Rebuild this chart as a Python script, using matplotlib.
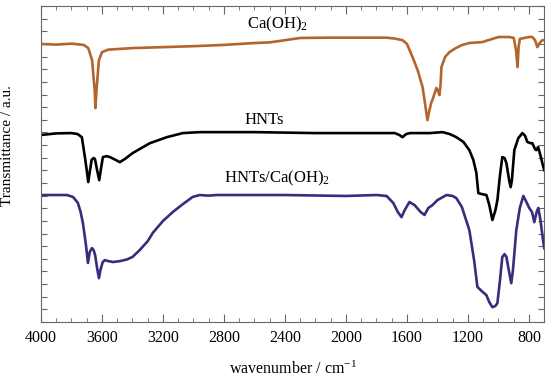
import numpy as np
import matplotlib
matplotlib.use('Agg')
import matplotlib.pyplot as plt
from matplotlib.ticker import MultipleLocator

plt.rcParams['font.family'] = ['Liberation Serif', 'DejaVu Serif']
plt.rcParams['mathtext.fontset'] = 'custom'
plt.rcParams['mathtext.rm'] = 'Liberation Serif'
plt.rcParams['mathtext.it'] = 'Liberation Serif:italic'

# Ca(OH)2 spectrum (wavenumber, transmittance a.u.)
wn_ca = [4000, 3900, 3800, 3720, 3690, 3665, 3648, 3643, 3636, 3620, 3600, 3560,
         3400, 3200, 3000, 2800, 2600, 2500, 2300, 2100, 1960, 1800, 1734, 1680,
         1629, 1600, 1564, 1530, 1498, 1480, 1466, 1455, 1440, 1433, 1407, 1395,
         1387, 1380, 1374, 1350, 1322, 1280, 1237, 1191, 1106, 1000, 975, 929,
         900, 885, 875, 868, 860, 800, 778, 760, 745, 730, 713, 700]
t_ca = [88.0, 87.8, 88.1, 87.7, 86.7, 82.9, 73.4, 67.7, 73.4, 82.9, 85.4, 86.2,
        86.7, 87.0, 87.3, 87.7, 88.3, 88.5, 89.9, 90.0, 90.0, 90.0, 90.0, 89.7,
        89.2, 88.0, 83.9, 79.7, 74.4, 68.7, 63.9, 66.5, 69.6, 70.3, 74.1, 73.0,
        71.8, 75.0, 80.7, 83.9, 85.4, 86.7, 87.7, 88.3, 88.6, 90.2, 90.2, 90.2,
        89.9, 86.1, 80.7, 87.0, 89.6, 90.2, 90.2, 89.2, 87.0, 88.3, 89.2, 89.2]

# HNTs spectrum
wn_hnt = [4000, 3900, 3800, 3760, 3732, 3712, 3700, 3690, 3680, 3668, 3655, 3646,
          3632, 3618, 3606, 3594, 3570, 3548, 3510, 3483, 3450, 3398, 3286, 3175,
          3070, 2959, 2600, 2200, 1800, 1680, 1650, 1629, 1605, 1580, 1450, 1367,
          1320, 1276, 1230, 1191, 1165, 1145, 1132, 1110, 1079, 1060, 1040, 1020,
          1007, 990, 975, 960, 948, 930, 920, 912, 896, 870, 843, 825, 811, 790,
          778, 760, 752, 740, 725, 706, 700]
t_hnt = [59.2, 59.7, 59.8, 59.5, 58.5, 52.2, 48.1, 44.3, 47.5, 51.3, 51.9, 51.6,
         48.1, 44.9, 48.7, 52.2, 52.5, 52.2, 51.3, 50.6, 51.6, 53.5, 56.6, 58.5,
         59.8, 60.1, 60.1, 59.8, 59.8, 59.8, 59.2, 58.5, 59.5, 59.8, 59.8, 60.1,
         59.5, 58.5, 57.0, 54.4, 51.3, 47.2, 40.8, 40.5, 40.2, 37.0, 32.3, 35.4,
         38.6, 46.5, 52.2, 51.9, 50.3, 44.9, 42.7, 44.9, 54.4, 58.2, 59.8, 58.9,
         57.0, 56.6, 56.6, 54.7, 54.4, 55.4, 52.8, 49.1, 48.1]

# HNTs/Ca(OH)2 spectrum
wn_mix = [4000, 3900, 3830, 3790, 3758, 3740, 3725, 3705, 3692, 3680, 3666, 3655,
          3645, 3632, 3620, 3610, 3595, 3581, 3560, 3528, 3480, 3437, 3400, 3352,
          3300, 3267, 3200, 3136, 3070, 3005, 2959, 2900, 2850, 2400, 2000, 1800,
          1734, 1690, 1660, 1636, 1615, 1584, 1550, 1510, 1485, 1460, 1433, 1400,
          1341, 1300, 1276, 1240, 1191, 1160, 1138, 1110, 1079, 1060, 1040, 1020,
          1007, 990, 975, 960, 948, 930, 916, 905, 883, 860, 837, 820, 798, 780,
          765, 750, 739, 725, 706, 700]
t_mix = [40.2, 40.2, 40.2, 39.6, 37.7, 34.8, 31.3, 24.4, 18.7, 22.2, 23.4, 22.8,
         21.2, 17.1, 13.9, 16.5, 19.0, 19.6, 19.3, 19.0, 19.3, 19.8, 20.6, 22.8,
         25.6, 28.2, 32.0, 34.8, 37.3, 39.6, 40.2, 40.0, 40.2, 40.2, 39.9, 40.2,
         39.9, 37.7, 34.8, 33.2, 35.4, 38.0, 37.0, 34.8, 33.9, 36.1, 37.0, 38.6,
         40.2, 39.9, 39.2, 36.4, 29.1, 19.6, 11.1, 9.8, 8.5, 6.3, 4.7, 5.1,
         6.0, 13.3, 20.6, 21.5, 20.6, 15.8, 12.3, 16.5, 29.1, 36.1, 39.9, 38.3,
         36.1, 34.8, 31.6, 34.8, 36.1, 32.3, 25.3, 23.4]

labels = ['Ca(OH)$_2$', 'HNTs', 'HNTs/Ca(OH)$_2$']
label_pos = [(2448, 93.0), (2533, 62.7), (2455, 44.3)]

fig = plt.figure(figsize=(5.5, 3.78), dpi=100)
ax = fig.add_axes([0.0745, 0.148, 0.915, 0.836])

ax.plot(wn_ca, t_ca, color='#b5652c', lw=1.9)
ax.plot(wn_hnt, t_hnt, color='black', lw=1.9)
ax.plot(wn_mix, t_mix, color='#3c2a7e', lw=1.9)

for txt, (xx, yy) in zip(labels, label_pos):
    ax.text(xx, yy, txt, ha='center', va='baseline', fontsize=12)

ax.set_xlim(4000, 700)
ax.set_ylim(0, 100)
ax.xaxis.set_major_locator(MultipleLocator(400))
ax.xaxis.set_minor_locator(MultipleLocator(100))
ax.yaxis.set_major_locator(MultipleLocator(4))
ax.set_yticklabels([])
ax.tick_params(axis='x', which='major', direction='in', length=6, top=True,
               labelsize=11.5, pad=6, color='#666666')
ax.tick_params(axis='x', which='minor', direction='in', length=3, top=True,
               color='#666666')
ax.tick_params(axis='y', which='major', direction='in', length=4, right=True,
               color='#666666')
for s in ax.spines.values():
    s.set_color('#666666')
    s.set_linewidth(0.8)

ax.set_xlabel('wavenumber / cm$^{-1}$', fontsize=11.5, labelpad=10)
ax.set_ylabel('Transmittance / a.u.', fontsize=11)
ax.yaxis.set_label_coords(-0.053, 0.56)

fig.savefig('out.png', dpi=100)
